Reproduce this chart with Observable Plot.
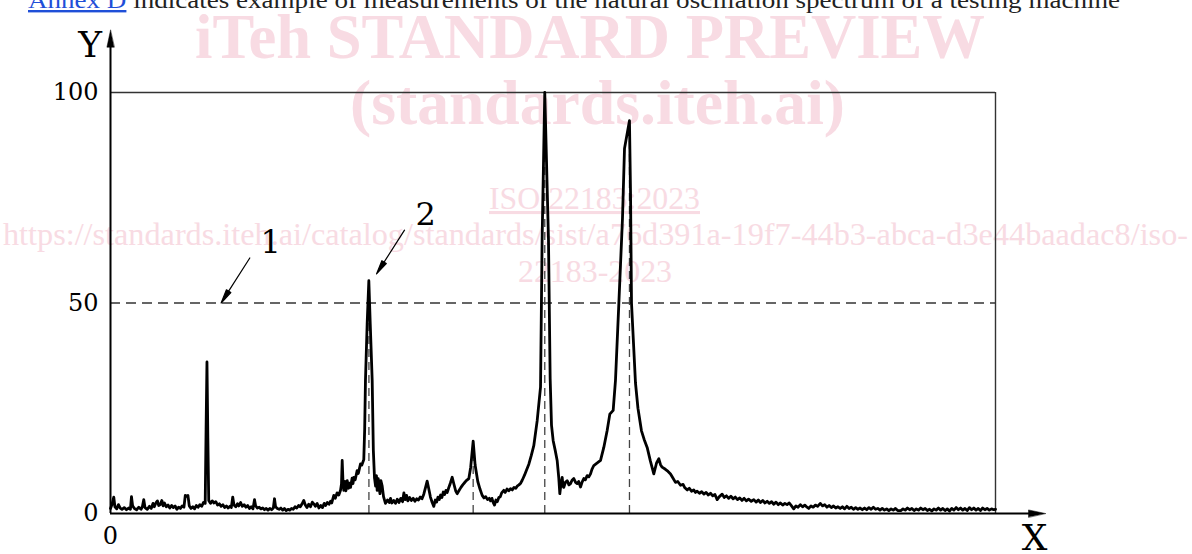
<!DOCTYPE html>
<html><head><meta charset="utf-8">
<script src="https://cdn.jsdelivr.net/npm/d3@7"></script>
<script src="https://cdn.jsdelivr.net/npm/@observablehq/plot@0.6"></script>
<style>
html,body{margin:0;padding:0;background:#fff;}
#wrap{position:relative;width:1192px;height:554px;overflow:hidden;}
#wm{position:absolute;left:0;top:0;}
#chart{position:absolute;left:0;top:0;}
</style></head><body>
<div id="wrap"><svg id="wm" width="1192" height="554"></svg><div id="chart"></div></div>
<script>
// ---- data (relative frequency 0..100, amplitude % 0..100) ----
const yTicks = [0, 50, 100];
const xTicks = [0];
const limitLevel = 50;
const resFreq = [29.2, 40.98, 49.07, 58.64];
const resPeak = [55.3, 17.2, 100, 93.3];
const calloutLabels = ["1", "2"];
const spectrum = [
[0.0,1.2],[0.15,2.0],[0.37,3.9],[0.5,1.6],[0.7,1.1],[0.9,2.1],[1.1,1.3],[1.3,1.0],[1.55,1.4],[1.8,0.9],[2.05,1.3],[2.25,1.0],[2.37,4.0],[2.5,1.8],[2.7,1.2],[2.95,0.9],[3.2,1.5],[3.45,1.0],[3.6,1.6],[3.76,3.3],[3.9,1.4],[4.15,1.0],[4.4,1.7],[4.6,1.2],[4.8,2.4],[4.95,1.6],[5.15,2.6],[5.3,3.0],[5.45,1.9],[5.65,2.2],[5.8,3.1],[5.95,1.8],[6.1,2.5],[6.3,1.6],[6.5,2.0],[6.7,1.3],[6.9,1.9],[7.1,1.4],[7.3,1.8],[7.5,1.0],[7.7,1.5],[7.9,1.2],[8.1,1.8],[8.3,1.5],[8.45,4.3],[8.6,4.1],[8.75,4.3],[8.9,1.8],[9.1,1.2],[9.3,1.6],[9.5,1.1],[9.7,1.9],[9.9,1.5],[10.1,2.1],[10.3,1.7],[10.5,2.6],[10.7,2.4],[10.8,20],[10.9,36],[11.0,18],[11.1,3.1],
[11.3,2.4],[11.5,3.0],[11.7,2.5],[11.9,2.8],[12.1,2.0],[12.3,2.3],[12.5,1.7],[12.7,2.1],[12.9,1.4],[13.1,1.8],[13.3,1.3],[13.5,1.7],[13.65,1.4],[13.81,3.9],[13.95,2.0],[14.15,1.6],[14.35,2.3],[14.5,1.8],[14.7,2.6],[14.9,1.7],[15.1,2.1],[15.3,1.5],[15.5,1.9],[15.7,1.2],[15.9,1.6],[16.1,1.1],[16.27,3.3],[16.4,1.8],[16.6,1.3],[16.8,1.5],[17.0,1.1],[17.2,1.3],[17.4,0.9],[17.6,1.2],[17.8,0.8],[18.0,1.2],[18.2,0.9],[18.4,1.3],[18.53,3.5],[18.65,1.6],[18.85,1.2],[19.05,1.0],[19.25,1.3],[19.45,0.8],[19.65,1.2],[19.85,0.7],[20.05,1.0],[20.25,0.8],[20.45,1.2],[20.65,1.0],[20.85,1.6],[21.05,1.3],[21.25,1.9],[21.45,1.6],[21.65,2.3],[21.84,3.1],[22.0,2.1],[22.2,1.4],[22.4,2.2],[22.6,1.6],[22.8,2.7],[22.97,2.3],[23.15,1.7],[23.35,2.4],[23.55,1.3],[23.75,1.9],[23.95,1.4],[24.15,2.4],[24.3,1.9],[24.5,2.6],[24.7,2.2],[24.86,2.9],[25.0,2.5],[25.23,4.3],[25.4,3.6],[25.6,4.9],[25.8,4.4],[25.99,5.5],[26.1,7.0],[26.18,12.6],[26.27,7.5],[26.36,5.5],[26.5,7.6],[26.6,5.4],[26.75,7.8],[26.9,6.0],[27.0,7.2],[27.12,6.2],[27.3,8.4],[27.4,7.1],[27.5,8.6],[27.65,8.0],[27.87,10.2],[28.0,9.5],[28.25,11.8],[28.4,11.5],[28.62,12.8],[28.72,20],[28.81,31.6],[29.0,45],[29.19,55.3],[29.35,45],[29.57,31.6],[29.7,15],[29.83,8.5],[29.95,6.5],[30.05,9.0],[30.13,5.5],[30.25,8.3],[30.35,6.2],[30.45,4.7],[30.55,7.8],[30.7,6.5],[30.85,4.0],[31.07,2.4],
[31.3,3.2],[31.5,2.6],[31.64,3.6],[31.8,2.5],[32.0,3.1],[32.2,2.4],[32.4,3.4],[32.6,2.6],[32.8,3.6],[33.0,2.8],[33.15,4.9],[33.3,3.3],[33.45,4.3],[33.6,3.0],[33.8,3.8],[34.0,3.1],[34.2,3.6],[34.4,2.9],[34.6,3.5],[34.8,3.2],[35.0,3.9],[35.2,3.5],[35.4,4.6],[35.6,6.2],[35.78,7.7],[35.95,6.0],[36.15,3.9],[36.35,2.6],[36.53,1.7],[36.7,3.2],[36.85,2.7],[37.0,3.9],[37.15,3.3],[37.3,4.4],[37.45,3.8],[37.6,5.1],[37.75,4.5],[37.9,5.5],[38.05,5.0],[38.2,6.0],[38.4,7.2],[38.61,8.6],[38.8,7.0],[39.0,5.4],[39.17,4.7],[39.4,5.5],[39.6,6.2],[39.8,6.8],[40.0,7.3],[40.2,7.8],[40.49,8.3],[40.7,11],[40.98,17.2],[41.2,11.5],[41.5,7.6],[41.75,5.8],[42.0,4.3],[42.2,3.7],[42.4,4.0],[42.6,3.3],[42.8,3.6],[42.94,3.0],[43.1,3.6],[43.25,2.6],[43.39,2.0],[43.55,3.2],[43.7,2.8],[43.88,3.8],[44.05,4.0],[44.2,4.9],[44.44,5.5],[44.6,5.0],[44.8,5.8],[45.0,5.4],[45.2,5.9],[45.4,5.6],[45.6,6.2],[45.8,6.0],[45.95,6.5],[46.15,6.8],[46.35,7.2],[46.52,7.9],[46.65,8.5],[46.78,9.1],[47.0,10.3],[47.27,11.7],[47.55,13.8],[47.83,16.1],[48.21,22.0],[48.59,30],[48.77,65],[49.07,100],[49.49,65],[49.68,32],[49.83,21],
[50.02,17.3],[50.25,15],[50.47,12.6],[50.65,8.5],[50.77,4.7],[50.9,7.0],[51.04,8.6],[51.13,6.5],[51.22,6.2],[51.4,7.4],[51.6,7.8],[51.8,6.8],[51.98,7.1],[52.15,7.9],[52.35,8.3],[52.55,7.4],[52.73,7.1],[52.9,7.6],[53.11,6.3],[53.3,7.5],[53.48,8.3],[53.65,8.0],[53.86,9.0],[54.05,8.7],[54.24,9.4],[54.4,10.5],[54.61,11.4],[55.0,12.0],[55.37,12.6],[55.74,15.7],[56.12,19.7],[56.42,23.6],[56.8,24.5],[57.06,31.6],[57.44,49.9],[57.85,70],[58.08,86.7],[58.64,93.3],[58.76,76],[58.87,50],[59.32,31],[59.6,25],[59.99,19.7],[60.3,17.6],[60.64,15.7],[61.0,12.5],[61.39,9.4],[61.7,12.0],[61.96,13.0],[62.15,11.6],[62.33,11.0],
[62.7,10.5],[63.0,10.0],[63.28,9.4],[63.5,8.6],[63.84,7.4],[64.1,7.6],[64.41,6.7],[64.7,6.9],[64.9,6.1],[65.17,5.6],[65.4,6.0],[65.65,5.3],[65.9,5.6],[66.1,5.0],[66.29,5.3],[66.55,4.8],[66.8,5.2],[67.05,4.6],[67.3,5.0],[67.55,4.4],[67.8,4.8],[68.05,4.2],[68.3,4.5],[68.55,3.3],[68.8,4.0],[69.12,4.6],[69.35,3.8],[69.6,4.2],[69.85,3.6],[70.1,4.1],[70.35,3.5],[70.6,3.9],[70.85,3.3],[71.1,3.7],[71.35,3.1],[71.6,3.6],[71.85,3.0],[72.1,3.4],[72.4,2.9],[72.69,3.3],[72.95,2.7],[73.2,3.2],[73.45,2.6],[73.7,3.1],[73.95,2.5],[74.2,2.9],[74.45,2.4],[74.7,2.8],[74.95,2.2],[75.2,2.7],[75.45,2.1],[75.7,2.5],[75.95,2.0],[76.2,2.4],[76.45,2.1],[76.7,2.5],[76.95,1.8],[77.2,1.1],[77.45,1.8],[77.7,1.5],[77.95,2.1],[78.2,1.6],[78.45,2.0],[78.7,1.5],[78.9,1.2],[79.15,1.8],[79.4,1.5],[79.65,2.0],[79.9,1.7],[80.2,2.4],[80.45,1.8],[80.7,2.1],[80.95,1.5],[81.2,1.9],[81.45,1.4],[81.7,1.8],[81.95,1.3],[82.2,1.6],[82.45,1.2],[82.7,1.6],[82.95,1.1],[83.2,1.7],[83.45,1.2],[83.7,1.5],[83.95,1.0],[84.2,1.4],[84.45,1.0],[84.7,1.3],[84.95,0.9],[85.2,1.3],[85.45,0.9],[85.7,1.4],[85.95,1.0],[86.2,1.5],[86.45,1.0],[86.7,1.2],[86.95,0.8],[87.2,1.2],[87.45,0.8],[87.7,1.1],[87.95,0.7],[88.2,1.1],[88.45,0.8],[88.7,1.2],[88.95,0.7],[89.3,0.7],[89.55,1.1],[89.8,0.8],[90.05,1.3],[90.3,0.9],[90.55,1.2],[90.8,0.7],[91.05,1.1],[91.3,0.8],[91.55,1.3],[91.8,0.9],[92.05,1.2],[92.3,0.7],[92.55,1.0],[92.8,0.6],[93.05,1.1],[93.3,0.8],[93.55,1.3],[93.8,0.8],[94.05,1.2],[94.3,0.7],[94.55,1.1],[94.8,0.6],[95.05,1.2],[95.3,0.8],[95.55,1.4],[95.8,0.9],[96.05,1.3],[96.3,0.8],[96.55,1.2],[96.8,0.7],[97.05,1.4],[97.3,0.9],[97.55,1.3],[97.8,0.8],[98.05,1.2],[98.3,0.7],[98.55,1.3],[98.8,0.9],[99.05,1.2],[99.3,0.8],[99.55,1.1],[99.8,0.9],[100,1.0]
];

// ---- layout ----
const W = 1192, H = 554, ML = 110, MR = 197, MT = 92, MB = 41;
const FONT = "'DejaVu Serif', 'Liberation Serif', serif";
const WMFONT = "'Liberation Serif', 'DejaVu Serif', serif";
const px = v => ML + v / 100 * (W - ML - MR);
const py = v => (H - MB) - v / 100 * (H - MT - MB);

// ---- watermark / header overlay (behind chart) ----
const wm = d3.select("#wm").style("font-family", WMFONT);
const pink = "#f8dbe3";
const hdr = wm.append("text").attr("x", 28).attr("y", 8).attr("font-size", 24)
  .attr("textLength", 1092).attr("lengthAdjust", "spacingAndGlyphs");
hdr.append("tspan").attr("fill", "#1f4fd8").attr("text-decoration", "underline").text("Annex D");
hdr.append("tspan").attr("fill", "#222").text(" indicates example of measurements of the natural oscillation spectrum of a testing machine");
function wmText(str, x, y, size, weight, len, deco) {
  wm.append("text").attr("x", x).attr("y", y).attr("font-size", size).attr("font-weight", weight)
    .attr("fill", pink).attr("textLength", len).attr("lengthAdjust", "spacingAndGlyphs")
    .attr("text-decoration", deco || null).text(str);
}
wmText("iTeh STANDARD PREVIEW", 195, 58, 64, "bold", 790);
wmText("(standards.iteh.ai)", 350, 124, 64, "bold", 495);
wmText("ISO 22183:2023", 489, 209, 31, "normal", 211, "underline");
wmText("https://standards.iteh.ai/catalog/standards/sist/a76d391a-19f7-44b3-abca-d3e44baadac8/iso-", 3, 245, 31, "normal", 1185);
wmText("22183-2023", 518, 282, 31, "normal", 154);

// ---- shapes ----
const headShape = { draw(ctx, l) { ctx.moveTo(0, -l); ctx.lineTo(-3.6, 0); ctx.lineTo(3.6, 0); ctx.closePath(); } };
const calloutShape = { draw(ctx, l) {
  const h = 14, w = 2.6;
  ctx.moveTo(0, 0); ctx.lineTo(0, -l + h);
  ctx.moveTo(0, -l); ctx.lineTo(-w, -l + h); ctx.lineTo(w, -l + h); ctx.closePath();
} };
function calloutMark(tip, tail) {
  const dx = px(tip[0]) - px(tail[0]), dy = py(tip[1]) - py(tail[1]);
  return Plot.vector([0], { x: tip[0], y: tip[1], length: Math.hypot(dx, dy),
    rotate: Math.atan2(dx, -dy) * 180 / Math.PI, anchor: "end", shape: calloutShape,
    fill: "black", stroke: "black", strokeWidth: 1.2 });
}

const resonances = resFreq.map((f, i) => ({ f, p: resPeak[i] }));

const chart = Plot.plot({
  width: W, height: H, marginLeft: ML, marginRight: MR, marginTop: MT, marginBottom: MB,
  style: { background: "transparent", fontFamily: FONT, color: "black", overflow: "visible" },
  x: { domain: [0, 100], axis: null },
  y: { domain: [0, 100], axis: null },
  marks: [
    Plot.axisY(yTicks, { tickSize: 0, tickPadding: 12, fontSize: 24, label: null }),
    Plot.axisX(xTicks, { tickSize: 0, tickPadding: 13, fontSize: 24, label: null }),
    Plot.ruleY([100], { x1: 0, x2: 100, stroke: "#333", strokeWidth: 1.4 }),
    Plot.ruleX([100], { y1: 0, y2: 100, stroke: "#333", strokeWidth: 1.4 }),
    Plot.ruleY([limitLevel], { x1: 0, x2: 100, stroke: "#333", strokeWidth: 1.4, strokeDasharray: "10,6" }),
    Plot.ruleX(resonances, { x: "f", y1: 0, y2: "p", stroke: "#444", strokeWidth: 1.3, strokeDasharray: "8,5" }),
    Plot.line(spectrum, { x: d => d[0], y: d => d[1], stroke: "black", strokeWidth: 2.8, strokeLinejoin: "round" }),
    Plot.ruleX([0], { y1: 0, y2: 111, stroke: "black", strokeWidth: 2 }),
    Plot.ruleY([0], { x1: 0, x2: 104, stroke: "black", strokeWidth: 2 }),
    Plot.vector([0], { x: 0, y: 114.8, length: 17, rotate: 0, anchor: "end", shape: headShape, fill: "black", stroke: "black", strokeWidth: 0.5 }),
    Plot.vector([0], { x: 105.65, y: 0, length: 17, rotate: 90, anchor: "end", shape: headShape, fill: "black", stroke: "black", strokeWidth: 0.5 }),
    calloutMark([12.5, 50], [15.74, 60.7]),
    calloutMark([30.06, 56.9], [33.22, 67.3]),
    Plot.text([calloutLabels[0]], { x: 18.1, y: 64.2, text: d => d, fontSize: 32 }),
    Plot.text([calloutLabels[1]], { x: 35.6, y: 70.9, text: d => d, fontSize: 32 }),
    Plot.text(["Y"], { x: -2.3, y: 111.2, text: d => d, fontSize: 36 }),
    Plot.text(["X"], { x: 104.4, y: -5.9, text: d => d, fontSize: 36 })
  ]
});
document.getElementById("chart").appendChild(chart);
</script>
</body></html>
